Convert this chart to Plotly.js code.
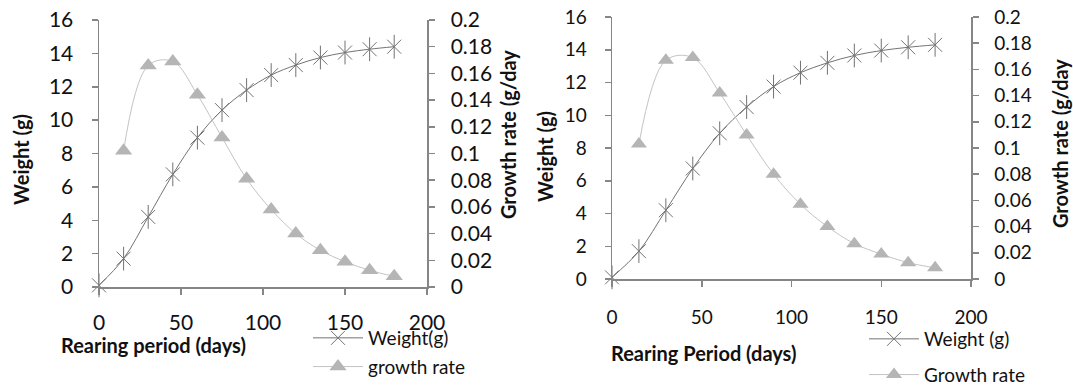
<!DOCTYPE html>
<html>
<head>
<meta charset="utf-8">
<script src="https://cdn.plot.ly/plotly-3.0.1.min.js"></script>
<style>
html,body{margin:0;padding:0;background:#fff;}
#wrap{position:relative;width:1073px;height:385px;overflow:hidden;}
#c1{position:absolute;left:0;top:0;width:526px;height:385px;}
#c2{position:absolute;left:526px;top:0;width:547px;height:385px;}
</style>
</head>
<body>
<div id="wrap"><div id="c1"></div><div id="c2"></div></div>
<script>
// ---- data ----
const days = [0, 15, 30, 45, 60, 75, 90, 105, 120, 135, 150, 165, 180];
const growthDays = [15, 30, 45, 60, 75, 90, 105, 120, 135, 150, 165, 180];

const weightLeft = [0.1, 1.7, 4.2, 6.75, 8.95, 10.6, 11.8, 12.7, 13.3, 13.75, 14.05, 14.25, 14.4];
const growthLeft = [0.102, 0.166, 0.169, 0.144, 0.112, 0.081, 0.058, 0.040, 0.0275, 0.019, 0.0125, 0.008];

const weightRight = [0.1, 1.7, 4.2, 6.75, 8.9, 10.5, 11.75, 12.6, 13.2, 13.65, 13.95, 14.15, 14.3];
const growthRight = [0.103, 0.167, 0.169, 0.142, 0.110, 0.080, 0.057, 0.040, 0.027, 0.019, 0.0125, 0.0085];

const leftNames = {weight: 'Weight(g)', growth: 'growth rate', x: 'Rearing period (days)', y: 'Weight (g)', y2: 'Growth rate (g/day'};
const rightNames = {weight: 'Weight (g)', growth: 'Growth rate', x: 'Rearing Period (days)', y: 'Weight (g)', y2: 'Growth rate (g/day'};

// ---- style ----
const FONT = 'Lato, "Open Sans", "Liberation Sans", sans-serif';
const AXIS = '#868686';
const WCOL = '#737373';
const GLINE = '#c4c4c4';
const GFILL = '#b5b5b5';

function build(div, w, g, names, o) {
  const traces = [
    {x: days, y: w, name: names.weight, mode: 'lines+markers', legendgroup: 'a',
     line: {shape: 'spline', smoothing: 1, color: WCOL, width: 1},
     marker: {symbol: 'x-thin-open', size: o.star, color: WCOL, line: {color: WCOL, width: 1}},
     cliponaxis: false, hoverinfo: 'skip'},
    {x: days, y: w, mode: 'markers', showlegend: false, legendgroup: 'a',
     marker: {symbol: 'line-ns-open', size: o.star + 3, color: WCOL, line: {color: WCOL, width: 1}},
     cliponaxis: false, hoverinfo: 'skip'},
    {x: growthDays, y: g, name: names.growth, mode: 'lines+markers', yaxis: 'y2', legendgroup: 'b',
     line: {shape: 'spline', smoothing: 1, color: GLINE, width: 1},
     marker: {symbol: 'triangle-up', size: o.tri, color: GFILL, line: {width: 0}},
     cliponaxis: false, hoverinfo: 'skip'}
  ];
  const axBase = {showline: true, linecolor: AXIS, linewidth: 1.5, ticks: 'outside', tickcolor: AXIS,
    tickwidth: 1.5, showgrid: false, zeroline: false, tickfont: {family: FONT, size: o.tick, color: '#111'}};
  const layout = {
    width: o.W, height: 385, margin: Object.assign({autoexpand: false}, o.margin),
    paper_bgcolor: '#fff', plot_bgcolor: '#fff',
    showlegend: true,
    font: {family: FONT, color: '#111'},
    xaxis: Object.assign({}, axBase, {range: [0, 200], dtick: 50, ticklen: 6, ticklabelstandoff: o.xstand}),
    yaxis: Object.assign({}, axBase, {range: [0, 16], dtick: 2, ticklen: 6, ticklabelstandoff: o.ystand}),
    yaxis2: Object.assign({}, axBase, {range: [0, 0.2], dtick: 0.02, ticklen: 6, side: 'right', overlaying: 'y',
      ticklabelstandoff: o.y2stand}),
    legend: {x: o.legX, y: o.legY, xanchor: 'left', yanchor: 'top', bgcolor: 'rgba(0,0,0,0)',
      font: {family: FONT, size: o.legFont, color: '#111'}, itemwidth: 50, traceorder: 'grouped',
      tracegroupgap: o.legGap},
    annotations: [
      {text: '<b>' + names.x + '</b>', xref: 'paper', yref: 'paper', x: o.xt[0], y: o.xt[1],
       xanchor: 'center', yanchor: 'middle', showarrow: false, font: {family: FONT, size: o.title, color: '#111'}},
      {text: '<b>' + names.y + '</b>', xref: 'paper', yref: 'paper', x: o.yt[0], y: o.yt[1], textangle: -90,
       xanchor: 'center', yanchor: 'middle', showarrow: false, font: {family: FONT, size: o.title, color: '#111'}},
      {text: '<b>' + names.y2 + '</b>', xref: 'paper', yref: 'paper', x: o.y2t[0], y: o.y2t[1], textangle: -90,
       xanchor: 'center', yanchor: 'middle', showarrow: false, font: {family: FONT, size: o.title, color: '#111'}}
    ]
  };
  Plotly.newPlot(div, traces, layout, {staticPlot: true, displayModeBar: false});
}

// left chart: plot area x 99..427, y 20..287 (page px)
build('c1', weightLeft, growthLeft, leftNames, {
  W: 526, margin: {l: 99, r: 99, t: 20, b: 98, pad: 0},
  star: 14, tri: 15, tick: 21, title: 20, legFont: 19,
  xstand: 10, ystand: 14, y2stand: 12,
  legX: (308 - 99) / 328, legY: -(319 - 287) / 267, legGap: 1,
  xt: [(153 - 99) / 328, -(345 - 287) / 267],
  yt: [(21 - 99) / 328, (287 - 160) / 267],
  y2t: [(508 - 99) / 328, (287 - 135) / 267]
});

// right chart: plot area x 612..971, y 17..279 (page px), div starts at 526
build('c2', weightRight, growthRight, rightNames, {
  W: 547, margin: {l: 86, r: 102, t: 17, b: 106, pad: 0},
  star: 14, tri: 14, tick: 19, title: 20, legFont: 19,
  xstand: 15, ystand: 14, y2stand: 12,
  legX: (338 - 86) / 359, legY: -(320 - 279) / 262, legGap: 8,
  xt: [(177 - 86) / 359, -(353 - 279) / 262],
  yt: [(19 - 86) / 359, (279 - 157) / 262],
  y2t: [(534 - 86) / 359, (279 - 144) / 262]
});
</script>
</body>
</html>
